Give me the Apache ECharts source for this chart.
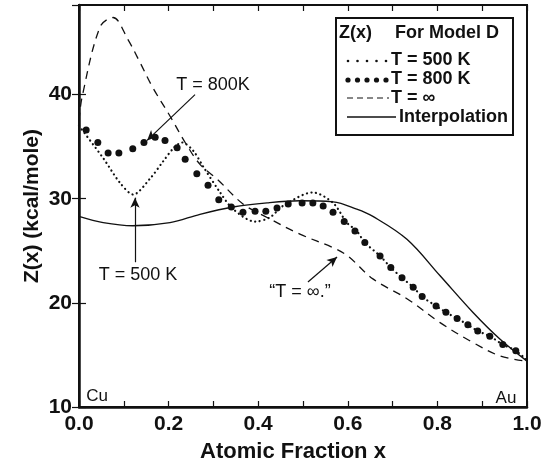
<!DOCTYPE html>
<html lang="en">
<head>
    <meta charset="UTF-8">
    <title>Z(x) For Model D</title>
    <script src="https://cdn.jsdelivr.net/npm/echarts@6/dist/echarts.min.js"></script>
    <style>
        html, body { margin: 0; padding: 0; background: #fff; }
        #main { width: 542px; height: 463px; }
    </style>
</head>
<body>
    <div id="main"></div>
    <script type="text/javascript">
        // T = infinity (dashed)
        var xInf = [0, 0.007, 0.047, 0.076, 0.109, 0.136, 0.163, 0.205, 0.237, 0.27, 0.308, 0.366, 0.42, 0.493, 0.567, 0.6, 0.656, 0.732, 0.806, 0.879, 0.94, 1.0];
        var yInf = [37.5, 39.8, 46.5, 47.4, 45.3, 43.1, 40.8, 37.8, 35.4, 33.3, 31.9, 29.5, 28.2, 26.6, 25.3, 24.5, 22.3, 20.4, 18.1, 16.2, 14.9, 14.4];

        // interpolation (solid)
        var xInterp = [0, 0.054, 0.12, 0.203, 0.27, 0.344, 0.42, 0.493, 0.567, 0.62, 0.656, 0.732, 0.806, 0.879, 0.94, 1.0];
        var yInterp = [28.3, 27.7, 27.4, 27.7, 28.5, 29.2, 29.6, 29.8, 29.7, 29.0, 28.3, 26.1, 22.6, 19.1, 16.5, 14.4];

        // T = 500 K (small dots)
        var x500 = [0, 0.054, 0.092, 0.121, 0.158, 0.188, 0.212, 0.23, 0.255, 0.277, 0.315, 0.344, 0.393, 0.426, 0.455, 0.522, 0.567, 0.598, 0.62, 0.638, 0.672, 0.696, 0.721, 0.746, 0.766, 0.797, 0.819, 0.844, 0.868, 0.89, 0.917, 0.946, 0.975, 1.0];
        var y500 = [37.0, 33.9, 31.5, 30.4, 31.9, 33.6, 34.9, 35.4, 34.6, 33.1, 30.6, 29.0, 27.8, 28.2, 29.3, 30.6, 29.6, 27.7, 26.9, 25.8, 24.5, 23.4, 22.4, 21.5, 20.6, 19.7, 19.1, 18.5, 17.9, 17.3, 16.8, 16.0, 15.4, 14.5];

        // T = 800 K (large dots)
        var x800 = [0.016, 0.042, 0.065, 0.089, 0.12, 0.145, 0.17, 0.192, 0.219, 0.237, 0.263, 0.288, 0.312, 0.34, 0.366, 0.393, 0.417, 0.442, 0.467, 0.498, 0.522, 0.545, 0.567, 0.592, 0.616, 0.638, 0.672, 0.696, 0.721, 0.746, 0.766, 0.797, 0.819, 0.844, 0.868, 0.89, 0.917, 0.946, 0.975];
        var y800 = [36.6, 35.4, 34.4, 34.4, 34.8, 35.4, 35.9, 35.6, 34.9, 33.8, 32.4, 31.3, 29.9, 29.2, 28.7, 28.8, 28.8, 29.1, 29.5, 29.6, 29.6, 29.3, 28.7, 27.8, 26.9, 25.8, 24.5, 23.4, 22.4, 21.5, 20.6, 19.7, 19.1, 18.5, 17.9, 17.3, 16.8, 16.0, 15.4];

        var xTicks = [0, 0.2, 0.4, 0.6, 0.8, 1.0];
        var yTicks = [10, 20, 30, 40];

        function zip(xs, ys) {
            return xs.map(function (x, i) { return [x, ys[i]]; });
        }

        var black = '#111';
        var boldFont = 'Liberation Sans';

        function txt(x, y, s, font, align) {
            return {
                type: 'text', x: x, y: y, z: 101,
                style: { text: s, font: font, fill: black, align: align || 'left', verticalAlign: 'middle' }
            };
        }

        // legend box drawn by hand (samples, not data)
        var legendFont = 'bold 18px ' + boldFont;
        var legendGraphics = [
            { type: 'rect', shape: { x: 336, y: 18, width: 177, height: 117 }, style: { fill: '#fff', stroke: black, lineWidth: 2 }, z: 100 },
            txt(339, 33, 'Z(x)', legendFont),
            txt(395, 33, 'For Model D', legendFont),
            txt(391, 60, 'T = 500 K', legendFont),
            txt(391, 79, 'T = 800 K', legendFont),
            txt(391, 98, 'T = \u221E', legendFont),
            txt(399, 117, 'Interpolation', legendFont),
            { type: 'line', shape: { x1: 347, y1: 98, x2: 389, y2: 98 }, style: { stroke: black, lineWidth: 1.2, lineDash: [6, 4] }, z: 101 },
            { type: 'line', shape: { x1: 347, y1: 117, x2: 396, y2: 117 }, style: { stroke: black, lineWidth: 1.4 }, z: 101 }
        ];
        for (var i = 0; i < 5; i++) {
            legendGraphics.push({ type: 'circle', shape: { cx: 348 + i * 9.5, cy: 61, r: 1.3 }, style: { fill: black }, z: 101 });
            legendGraphics.push({ type: 'circle', shape: { cx: 348 + i * 9.5, cy: 80, r: 2.6 }, style: { fill: black }, z: 101 });
        }

        var annoFont = '18px Liberation Sans';
        var textGraphics = [
            txt(213, 85, 'T = 800K', annoFont, 'center'),
            txt(138, 275, 'T = 500 K', annoFont, 'center'),
            txt(300, 292, '\u201CT = \u221E.\u201D', annoFont, 'center'),
            txt(97, 396, 'Cu', '17px Liberation Sans', 'center'),
            txt(506, 398, 'Au', '17px Liberation Sans', 'center')
        ];

        var arrowStyle = { color: black, width: 1.2, type: 'solid' };

        const chart = echarts.init(document.getElementById('main'), null, { renderer: 'canvas' });
        option = {
            backgroundColor: '#fff',
            animation: false,
            grid: {
                left: 79,
                right: 15,
                top: 5,
                bottom: 56,
                outerBoundsMode: 'none',
                show: true,
                borderColor: black,
                borderWidth: 2
            },
            xAxis: [{
                type: 'value',
                position: 'bottom',
                min: 0,
                max: 1,
                interval: 0.1,
                name: 'Atomic Fraction x',
                nameLocation: 'middle',
                nameGap: 34,
                nameMoveOverlap: false,
                nameTextStyle: { fontFamily: boldFont, fontWeight: 'bold', fontSize: 22, color: black, padding: [0, 20, 0, 0] },
                axisLine: { lineStyle: { color: black, width: 2.5 } },
                axisTick: { inside: true, length: 6, lineStyle: { color: black, width: 1.2 } },
                axisLabel: {
                    margin: 7,
                    fontFamily: boldFont,
                    fontWeight: 'bold',
                    fontSize: 21,
                    color: black,
                    formatter: function (v) {
                        var hit = xTicks.filter(function (t) { return Math.abs(t - v) < 1e-6; });
                        return hit.length ? hit[0].toFixed(1) : '';
                    }
                },
                splitLine: { show: false }
            }, {
                type: 'value',
                position: 'top',
                min: 0,
                max: 1,
                interval: 0.1,
                axisLine: { lineStyle: { color: black, width: 2 } },
                axisTick: { inside: true, length: 6, lineStyle: { color: black, width: 1.2 } },
                axisLabel: { show: false },
                splitLine: { show: false }
            }],
            yAxis: [{
                type: 'value',
                position: 'left',
                min: 10,
                max: 48.6,
                interval: 10,
                name: 'Z(x) (kcal/mole)',
                nameLocation: 'middle',
                nameGap: 36,
                nameMoveOverlap: false,
                nameTextStyle: { fontFamily: boldFont, fontWeight: 'bold', fontSize: 21, color: black },
                axisLine: { lineStyle: { color: black, width: 2.5 } },
                axisTick: { inside: true, length: 7, lineStyle: { color: black, width: 1.2 } },
                axisLabel: {
                    margin: 7,
                    fontFamily: boldFont,
                    fontWeight: 'bold',
                    fontSize: 21,
                    color: black,
                    showMaxLabel: false,
                    formatter: function (v) { return yTicks.indexOf(v) >= 0 ? String(v) : ''; }
                },
                splitLine: { show: false }
            }, {
                type: 'value',
                position: 'right',
                min: 10,
                max: 48.6,
                interval: 10,
                axisLine: { lineStyle: { color: black, width: 2 } },
                axisTick: { inside: true, length: 7, lineStyle: { color: black, width: 1.2 } },
                axisLabel: { show: false },
                splitLine: { show: false }
            }],
            graphic: legendGraphics.concat(textGraphics),
            series: [{
                name: 'T = \u221E',
                type: 'line',
                data: zip(xInf, yInf),
                smooth: 0.35,
                showSymbol: false,
                lineStyle: { color: black, width: 1.3, type: [8, 6] }
            }, {
                name: 'Interpolation',
                type: 'line',
                data: zip(xInterp, yInterp),
                smooth: 0.35,
                showSymbol: false,
                lineStyle: { color: black, width: 1.4 },
                markLine: {
                    silent: true,
                    symbol: ['none', 'arrow'],
                    symbolSize: [7, 10],
                    label: { show: false },
                    lineStyle: arrowStyle,
                    data: [
                        [{ coord: [0.259, 40.0] }, { coord: [0.152, 35.6] }],
                        [{ coord: [0.125, 23.9] }, { coord: [0.125, 30.1] }],
                        [{ coord: [0.511, 22.0] }, { coord: [0.576, 24.4] }]
                    ]
                }
            }, {
                name: 'T = 500 K',
                type: 'line',
                data: zip(x500, y500),
                smooth: 0.3,
                showSymbol: false,
                lineStyle: { color: black, width: 2.2, type: [0.1, 4.5], cap: 'round' }
            }, {
                name: 'T = 800 K',
                type: 'line',
                data: zip(x800, y800),
                symbol: 'circle',
                symbolSize: 7,
                itemStyle: { color: black },
                lineStyle: { width: 0, opacity: 0 }
            }]
        };
        chart.setOption(option);
    </script>
</body>
</html>
